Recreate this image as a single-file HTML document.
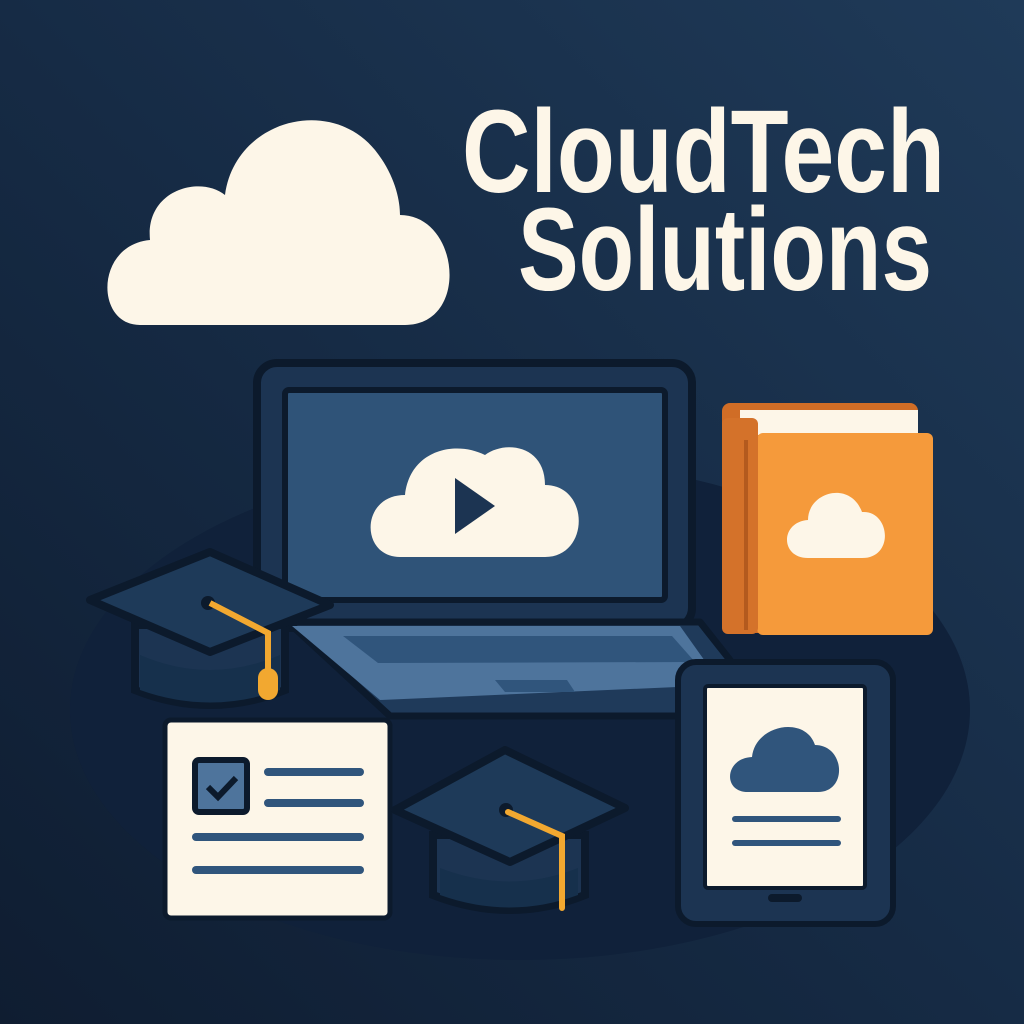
<!DOCTYPE html>
<html><head><meta charset="utf-8"><style>html,body{margin:0;padding:0;width:1024px;height:1024px;overflow:hidden;background:#13243b}</style></head>
<body>
<svg width="1024" height="1024" viewBox="0 0 1024 1024" xmlns="http://www.w3.org/2000/svg">
<defs>
<linearGradient id="bg" x1="1" y1="0" x2="0" y2="1">
<stop offset="0" stop-color="#1f3a58"/><stop offset="0.5" stop-color="#162b45"/><stop offset="1" stop-color="#0f1d31"/>
</linearGradient>
</defs>
<rect width="1024" height="1024" fill="url(#bg)"/>
<ellipse cx="520" cy="710" rx="450" ry="250" fill="#10213a"/>
<!-- big cloud -->
<path d="M140,325 C95,325 95,245 150,240 C145,190 200,175 225,195 C235,120 330,95 375,150 C395,175 400,200 400,215 C460,215 470,325 405,325 Z" fill="#fdf6e8"/>
<text x="462" y="192" font-family="Liberation Sans, sans-serif" font-weight="bold" font-size="118" fill="#fdf6e8" textLength="483" lengthAdjust="spacingAndGlyphs">CloudTech</text>
<text x="518" y="290" font-family="Liberation Sans, sans-serif" font-weight="bold" font-size="118" fill="#fdf6e8" textLength="414" lengthAdjust="spacingAndGlyphs">Solutions</text>
<!-- laptop screen -->
<rect x="257" y="363" width="435" height="265" rx="20" fill="#1c3452" stroke="#0c1a2c" stroke-width="8"/>
<rect x="285" y="390" width="380" height="210" rx="4" fill="#2f5378" stroke="#0c1a2c" stroke-width="6"/>
<path d="M400,557 C360,557 360,495 405,495 C410,450 455,440 485,455 C505,440 545,445 545,485 C590,485 590,557 545,557 Z" fill="#fdf6e8"/>
<path d="M455,478 L455,534 L495,506 Z" fill="#1c3452"/>
<!-- laptop base -->
<path d="M288,622 L700,622 L730,660 L715,716 L390,716 Z" fill="#1f3a5a" stroke="#0c1a2c" stroke-width="7" stroke-linejoin="round"/>
<path d="M292,626 L680,626 L722,685 L380,700 Z" fill="#4e749c"/>
<path d="M343,636 L672,636 L695,662 L378,663 Z" fill="#30557c"/>
<path d="M495,680 L567,680 L575,692 L505,692 Z" fill="#30557c"/>
<!-- book -->
<rect x="722" y="403" width="196" height="230" rx="8" fill="#d06d26" stroke="#0c1a2c" stroke-width="0"/>
<rect x="740" y="410" width="178" height="25" fill="#fdf6e8"/>
<rect x="757" y="433" width="176" height="202" rx="6" fill="#f59a3b"/>
<rect x="722" y="418" width="36" height="216" rx="6" fill="#d4722a"/>
<line x1="746" y1="440" x2="746" y2="630" stroke="#b35a1e" stroke-width="4"/>
<path d="M808,558 C780,558 780,522 808,520 C808,492 850,480 862,512 C890,510 895,558 862,558 Z" fill="#fdf6e8"/>
<!-- cap 1 -->
<path d="M135,625 L135,690 Q210,720 285,690 L285,625 Z" fill="#1c3452" stroke="#0c1a2c" stroke-width="8"/>
<path d="M140,655 Q210,685 280,655 L280,690 Q210,715 140,690 Z" fill="#16304c"/>
<path d="M90,600 L210,552 L330,605 L210,652 Z" fill="#1e3a59" stroke="#0c1a2c" stroke-width="8" stroke-linejoin="round"/>
<circle cx="208" cy="603" r="7" fill="#0c1a2c"/>
<path d="M210,603 L268,633 L268,680" fill="none" stroke="#f2a830" stroke-width="6"/>
<rect x="258" y="668" width="20" height="32" rx="10" fill="#f2a830"/>
<!-- checklist -->
<rect x="165" y="720" width="225" height="198" rx="6" fill="#fdf6e8" stroke="#0c1a2c" stroke-width="5"/>
<rect x="195" y="760" width="52" height="52" rx="4" fill="#4e749c" stroke="#0c1a2c" stroke-width="6"/>
<path d="M208,787 L218,797 L236,778" fill="none" stroke="#0c1a2c" stroke-width="6"/>
<g stroke="#30557c" stroke-width="8" stroke-linecap="round">
<line x1="268" y1="772" x2="360" y2="772"/><line x1="268" y1="803" x2="360" y2="803"/>
<line x1="196" y1="837" x2="360" y2="837"/><line x1="196" y1="870" x2="360" y2="870"/>
</g>
<!-- cap 2 -->
<path d="M433,835 L433,895 Q510,925 585,895 L585,835 Z" fill="#1c3452" stroke="#0c1a2c" stroke-width="8"/>
<path d="M440,868 Q510,895 578,868 L578,895 Q510,920 440,895 Z" fill="#16304c"/>
<path d="M395,810 L505,750 L625,808 L510,862 Z" fill="#1e3a59" stroke="#0c1a2c" stroke-width="8" stroke-linejoin="round"/>
<circle cx="506" cy="810" r="7" fill="#0c1a2c"/>
<path d="M508,812 L562,836 L562,908" fill="none" stroke="#f2a830" stroke-width="6" stroke-linecap="round"/>
<!-- tablet -->
<rect x="678" y="662" width="215" height="262" rx="18" fill="#1c3452" stroke="#0c1a2c" stroke-width="6"/>
<rect x="705" y="686" width="160" height="202" rx="3" fill="#fdf6e8" stroke="#0c1a2c" stroke-width="4"/>
<path d="M748,792 C722,792 725,758 752,757 C755,725 805,715 815,745 C845,745 848,792 818,792 Z" fill="#30557c"/>
<g stroke="#30557c" stroke-width="6" stroke-linecap="round"><line x1="735" y1="819" x2="838" y2="819"/><line x1="735" y1="843" x2="838" y2="843"/></g>
<rect x="768" y="894" width="34" height="8" rx="4" fill="#0c1a2c"/>
</svg>
</body></html>
